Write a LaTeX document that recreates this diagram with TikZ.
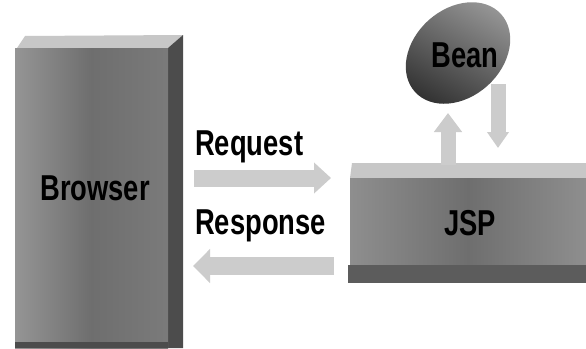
\documentclass[tikz,border=0pt]{standalone}
\usepackage{fontspec}
\setmainfont{Liberation Sans}
\usetikzlibrary{arrows.meta}

\definecolor{slabfront}{gray}{0.48}
\definecolor{slabtop}{gray}{0.78}
\definecolor{slabside}{gray}{0.30}
\definecolor{slabbase}{gray}{0.36}
\definecolor{beandark}{gray}{0.20}
\definecolor{beanlight}{gray}{0.58}
\definecolor{flowgray}{gray}{0.80}

% narrow bold sans labels
\newcommand\narrowlabel[1]{\scalebox{0.76}[1]{#1}}

\begin{document}
\begin{tikzpicture}[x=1pt,y=-1pt,
  caption/.style={font=\fontsize{36}{40}\selectfont\bfseries, inner sep=0pt, text=black},
  flow/.style={draw=flowgray, line width=#1},
  flow/.default=17pt]
\useasboundingbox[fill=white] (0,0) rectangle (586,348);

% ---- Browser slab ----
\fill[slabtop] (17,48) -- (25,36) -- (183,35) -- (168,48) -- cycle;
\fill[slabside] (168,48) -- (183,35) -- (183,348) -- (168,348) -- cycle;
\fill[left color=slabfront!80!white, right color=slabfront, middle color=slabfront!90!black]
  (15,48) rectangle (168,348);
\fill[slabside] (15,342) rectangle (168,348);
\node[caption, anchor=base] (browser) at (95,200) {\narrowlabel{Browser}};

% ---- JSP slab ----
\fill[slabtop] (352,163) -- (586,163) -- (586,178) -- (350,178) -- cycle;
\fill[left color=slabfront!85!white, right color=slabfront!85!white, middle color=slabfront!90!black]
  (350,178) rectangle (586,265);
\fill[slabbase] (348,265) rectangle (586,283);
\node[caption, anchor=base] (jsp) at (470,235) {\narrowlabel{JSP}};

% ---- labels over the request / response arrows ----
\node[caption, anchor=base west] (reqlabel) at (195,155) {\narrowlabel{Request}};
\node[caption, anchor=base west] (resplabel) at (195,234) {\narrowlabel{Response}};

% ---- arrow end points ----
\coordinate (reqfrom) at (194,178);
\coordinate (reqto) at (331,178);
\coordinate (respfrom) at (334,266);
\coordinate (respto) at (193,266);
\coordinate (callfrom) at (448,165);
\coordinate (callto) at (448,113);
\coordinate (retfrom) at (498,84);
\coordinate (retto) at (498,148);

\draw[flow=17pt, -{Triangle[length=17pt,width=30pt]}] (reqfrom) -- (reqto);
\draw[flow=18pt, -{Triangle[length=17pt,width=33pt]}] (respfrom) -- (respto);
\draw[flow=15pt, -{Triangle[length=19pt,width=27pt]}] (callfrom) -- (callto);
\draw[flow=15pt, -{Triangle[length=16pt,width=21pt]}] (retfrom) -- (retto);

% ---- Bean: tilted ellipse, lit from the upper left ----
\coordinate (beanc) at (458,53);
\shade[rotate around={42:(beanc)}, top color=beanlight, bottom color=beandark, shading angle=-30]
  (beanc) ellipse [x radius=58pt, y radius=44pt];
\node[caption, anchor=base] (bean) at (465,67) {\narrowlabel{Bean}};
\end{tikzpicture}
\end{document}
